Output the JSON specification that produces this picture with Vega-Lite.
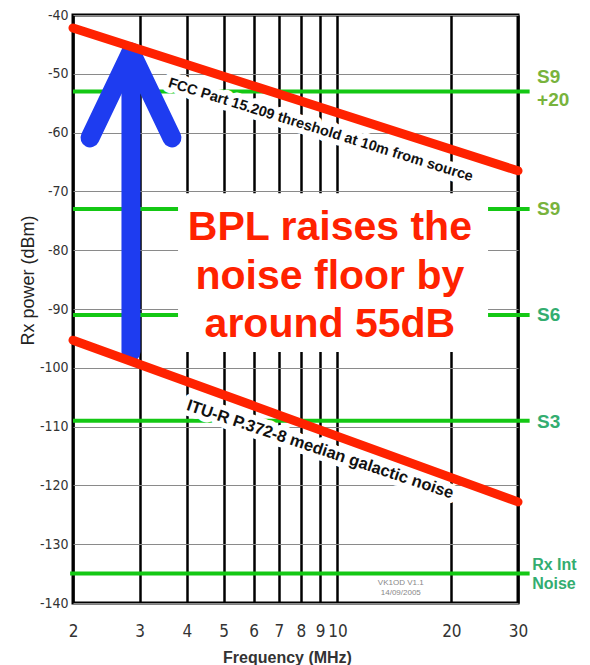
{
  "$schema": "https://vega.github.io/schema/vega-lite/v6.json",
  "width": 445,
  "height": 588,
  "autosize": {"type": "none"},
  "padding": {"left": 73, "top": 15, "right": 72, "bottom": 62},
  "background": "white",
  "config": {
    "view": {"stroke": "black", "strokeWidth": 3},
    "font": "Liberation Sans"
  },
  "datasets": {
    "levels": [
      {"level": "S9+20", "db": -53, "x1": 2, "x2": 32.2},
      {"level": "S9", "db": -73, "x1": 2, "x2": 32.2},
      {"level": "S6", "db": -91, "x1": 2, "x2": 32.2},
      {"level": "S3", "db": -109, "x1": 2, "x2": 32.2},
      {"level": "Rx Int Noise", "db": -135, "x1": 1.965, "x2": 32.2}
    ],
    "box": [{"x1": 3.79, "x2": 25, "y1": -70.3, "y2": -97.3}],
    "limits": [
      {"series": "FCC Part 15.209", "i": 0, "freq": 2, "db": -42.2},
      {"series": "FCC Part 15.209", "i": 1, "freq": 30, "db": -66.5},
      {"series": "ITU-R P.372-8", "i": 0, "freq": 2, "db": -95.3},
      {"series": "ITU-R P.372-8", "i": 1, "freq": 30, "db": -122.8}
    ],
    "arrow": [
      {"seg": "head", "i": 0, "freq": 2.218, "db": -60.9},
      {"seg": "head", "i": 1, "freq": 2.846, "db": -46.3},
      {"seg": "head", "i": 2, "freq": 3.653, "db": -60.9},
      {"seg": "shaft", "i": 0, "freq": 2.846, "db": -46.3},
      {"seg": "shaft", "i": 1, "freq": 2.846, "db": -97.3}
    ],
    "fcc": [{"text": "FCC Part 15.209 threshold at 10m from source", "freq": 9.02, "db": -59.6}],
    "itu": [{"text": "ITU-R P.372-8 median galactic noise", "freq": 9.0, "db": -113.9}],
    "bpl": [
      {"text": "BPL raises the", "freq": 9.55, "db": -76.3},
      {"text": "noise floor by", "freq": 9.55, "db": -84.5},
      {"text": "around 55dB", "freq": 9.55, "db": -92.7}
    ],
    "stamp": [
      {"text": "VK1OD V1.1", "freq": 14.7, "db": -136.6},
      {"text": "14/09/2005", "freq": 14.7, "db": -138.3}
    ],
    "slabels": [
      {"text": "S9", "kind": "olive", "freq": 33.7, "db": -50.5},
      {"text": "+20", "kind": "olive", "freq": 33.7, "db": -54.5},
      {"text": "S9", "kind": "olive", "freq": 33.7, "db": -73},
      {"text": "S6", "kind": "teal", "freq": 33.7, "db": -91},
      {"text": "S3", "kind": "teal", "freq": 33.7, "db": -109.2},
      {"text": "Rx Int", "kind": "small", "freq": 32.7, "db": -133.5},
      {"text": "Noise", "kind": "small", "freq": 32.7, "db": -136.8}
    ]
  },
  "layer": [
    {
      "data": {"name": "levels"},
      "mark": {"type": "rule", "color": "#14c814", "strokeWidth": 4},
      "encoding": {
        "x": {
          "field": "x1", "type": "quantitative",
          "scale": {"type": "log", "domain": [2, 30], "nice": false},
          "axis": {
            "title": "Frequency (MHz)",
            "values": [2, 3, 4, 5, 6, 7, 8, 9, 10, 20, 30],
            "format": "d",
            "grid": true, "gridColor": "black", "gridWidth": 2.5, "gridOpacity": 1,
            "domain": false, "ticks": false,
            "labelPadding": 20, "labelFontSize": 17,
            "labelFont": "Liberation Sans Narrow, DejaVu Sans Condensed, sans-serif",
            "labelColor": "#333",
            "labelFlush": false, "labelOverlap": false,
            "titleFont": "Liberation Sans", "titleFontWeight": "bold", "titleFontSize": 16,
            "titleColor": "#333", "titleX": 214, "titleY": 54, "titleBaseline": "middle"
          }
        },
        "x2": {"field": "x2"},
        "y": {
          "field": "db", "type": "quantitative",
          "scale": {"domain": [-140, -40], "nice": false, "zero": false},
          "axis": {
            "title": "Rx power (dBm)",
            "values": [-40, -50, -60, -70, -80, -90, -100, -110, -120, -130, -140],
            "labelExpr": "'-' + abs(datum.value)",
            "grid": true, "gridColor": "#8a8a8a", "gridWidth": 1.2, "gridOpacity": 1,
            "domain": false, "ticks": false,
            "labelPadding": 5, "labelFontSize": 14,
            "labelFont": "Liberation Sans Narrow, DejaVu Sans Condensed, sans-serif",
            "labelColor": "#333",
            "labelFlush": false, "labelOverlap": false,
            "titleFont": "Liberation Sans", "titleFontWeight": "normal", "titleFontSize": 18,
            "titleColor": "#222", "titleX": -45, "titleY": 265, "titleBaseline": "middle"
          }
        }
      }
    },
    {
      "data": {"name": "box"},
      "mark": {"type": "rect", "fill": "white"},
      "encoding": {
        "x": {"field": "x1", "type": "quantitative"},
        "x2": {"field": "x2"},
        "y": {"field": "y1", "type": "quantitative"},
        "y2": {"field": "y2"}
      }
    },
    {
      "data": {"name": "fcc"},
      "mark": {"type": "text", "fill": "white", "stroke": "white", "strokeWidth": 11, "strokeJoin": "round", "angle": 17.3, "fontSize": 14.5, "fontWeight": "bold", "align": "center", "baseline": "middle"},
      "encoding": {
        "x": {"field": "freq", "type": "quantitative"},
        "y": {"field": "db", "type": "quantitative"},
        "text": {"field": "text"}
      }
    },
    {
      "data": {"name": "itu"},
      "mark": {"type": "text", "fill": "white", "stroke": "white", "strokeWidth": 11, "strokeJoin": "round", "angle": 18.5, "fontSize": 16.5, "fontWeight": "bold", "align": "center", "baseline": "middle"},
      "encoding": {
        "x": {"field": "freq", "type": "quantitative"},
        "y": {"field": "db", "type": "quantitative"},
        "text": {"field": "text"}
      }
    },
    {
      "data": {"name": "arrow"},
      "mark": {"type": "line", "color": "#1e3cf0", "strokeWidth": 19, "strokeCap": "round", "strokeJoin": "round"},
      "encoding": {
        "x": {"field": "freq", "type": "quantitative"},
        "y": {"field": "db", "type": "quantitative"},
        "detail": {"field": "seg"},
        "order": {"field": "i"}
      }
    },
    {
      "data": {"name": "limits"},
      "mark": {"type": "line", "color": "#ff2200", "strokeWidth": 9, "strokeCap": "round"},
      "encoding": {
        "x": {"field": "freq", "type": "quantitative"},
        "y": {"field": "db", "type": "quantitative"},
        "detail": {"field": "series"},
        "order": {"field": "i"}
      }
    },
    {
      "data": {"name": "fcc"},
      "mark": {"type": "text", "color": "#111", "angle": 17.3, "fontSize": 14.5, "fontWeight": "bold", "align": "center", "baseline": "middle"},
      "encoding": {
        "x": {"field": "freq", "type": "quantitative"},
        "y": {"field": "db", "type": "quantitative"},
        "text": {"field": "text"}
      }
    },
    {
      "data": {"name": "itu"},
      "mark": {"type": "text", "color": "#111", "angle": 18.5, "fontSize": 16.5, "fontWeight": "bold", "align": "center", "baseline": "middle"},
      "encoding": {
        "x": {"field": "freq", "type": "quantitative"},
        "y": {"field": "db", "type": "quantitative"},
        "text": {"field": "text"}
      }
    },
    {
      "data": {"name": "bpl"},
      "mark": {"type": "text", "color": "#ff2200", "fontSize": 41, "fontWeight": "bold", "align": "center", "baseline": "middle"},
      "encoding": {
        "x": {"field": "freq", "type": "quantitative"},
        "y": {"field": "db", "type": "quantitative"},
        "text": {"field": "text"}
      }
    },
    {
      "data": {"name": "stamp"},
      "mark": {"type": "text", "color": "#888", "fontSize": 8, "align": "center", "baseline": "middle"},
      "encoding": {
        "x": {"field": "freq", "type": "quantitative"},
        "y": {"field": "db", "type": "quantitative"},
        "text": {"field": "text"}
      }
    },
    {
      "data": {"name": "slabels"},
      "transform": [{"filter": "datum.kind === 'olive'"}],
      "mark": {"type": "text", "color": "#78b33c", "fontSize": 19, "fontWeight": "bold", "align": "left", "baseline": "middle"},
      "encoding": {
        "x": {"field": "freq", "type": "quantitative"},
        "y": {"field": "db", "type": "quantitative"},
        "text": {"field": "text"}
      }
    },
    {
      "data": {"name": "slabels"},
      "transform": [{"filter": "datum.kind === 'teal'"}],
      "mark": {"type": "text", "color": "#33ad70", "fontSize": 19, "fontWeight": "bold", "align": "left", "baseline": "middle"},
      "encoding": {
        "x": {"field": "freq", "type": "quantitative"},
        "y": {"field": "db", "type": "quantitative"},
        "text": {"field": "text"}
      }
    },
    {
      "data": {"name": "slabels"},
      "transform": [{"filter": "datum.kind === 'small'"}],
      "mark": {"type": "text", "color": "#33ad70", "fontSize": 16, "fontWeight": "bold", "align": "left", "baseline": "middle"},
      "encoding": {
        "x": {"field": "freq", "type": "quantitative"},
        "y": {"field": "db", "type": "quantitative"},
        "text": {"field": "text"}
      }
    }
  ]
}
